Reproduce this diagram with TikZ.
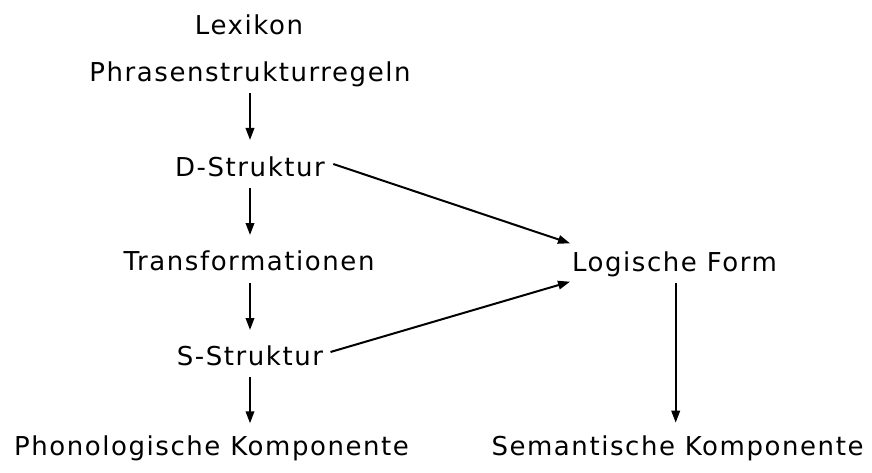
\documentclass[tikz,border=0pt]{standalone}
\usepackage{fontspec}
\setmainfont{DejaVu Sans}[LetterSpace=6]
\usetikzlibrary{arrows.meta}
\begin{document}
\begin{tikzpicture}[x=1pt,y=-1pt,
  lab/.style={anchor=base,inner sep=0pt,font=\fontsize{26}{30}\selectfont},
  arr/.style={line width=2pt,-{Triangle[length=12pt,width=8.5pt]}}]
\useasboundingbox (0,0) rectangle (872,473);
\node[lab] (lex) at (249,34.3) {Lexikon};
\node[lab] (phr) at (250,82) {Phrasenstrukturregeln};
\node[lab] (ds) at (250,176.7) {D-Struktur};
\node[lab] (tr) at (249,270) {Transformationen};
\node[lab] (ss) at (250,365) {S-Struktur};
\node[lab] (pk) at (211.5,455) {Phonologische Komponente};
\node[lab] (lf) at (674.5,271.7) {Logische Form};
\node[lab] (sk) at (677.5,455) {Semantische Komponente};
\path (phr.base |- tr.base) coordinate (trt);
\path (ss.base |- pk.base) coordinate (pkt);
\path (lf.base |- sk.base) coordinate (skt);
\draw[arr] ([yshift=-11.3]phr.base) -- ([yshift=36.7]ds.base);
\draw[arr] ([yshift=-11.6]ds.base) -- ([yshift=35]trt);
\draw[arr] ([yshift=-13.3]trt) -- ([yshift=35]ss.base);
\draw[arr] ([yshift=-11.7]ss.base) -- ([yshift=31.7]pkt);
\draw[arr] ([xshift=1.2,yshift=-11]lf.base) -- ([xshift=1.2,yshift=32.3]skt);
\draw[arr] ([xshift=83.3,yshift=12.7]ds.base) -- ([xshift=-104.5,yshift=28.4]lf.base);
\draw[arr] ([xshift=80.5,yshift=13]ss.base) -- ([xshift=-104.5,yshift=-10]lf.base);
\end{tikzpicture}
\end{document}
